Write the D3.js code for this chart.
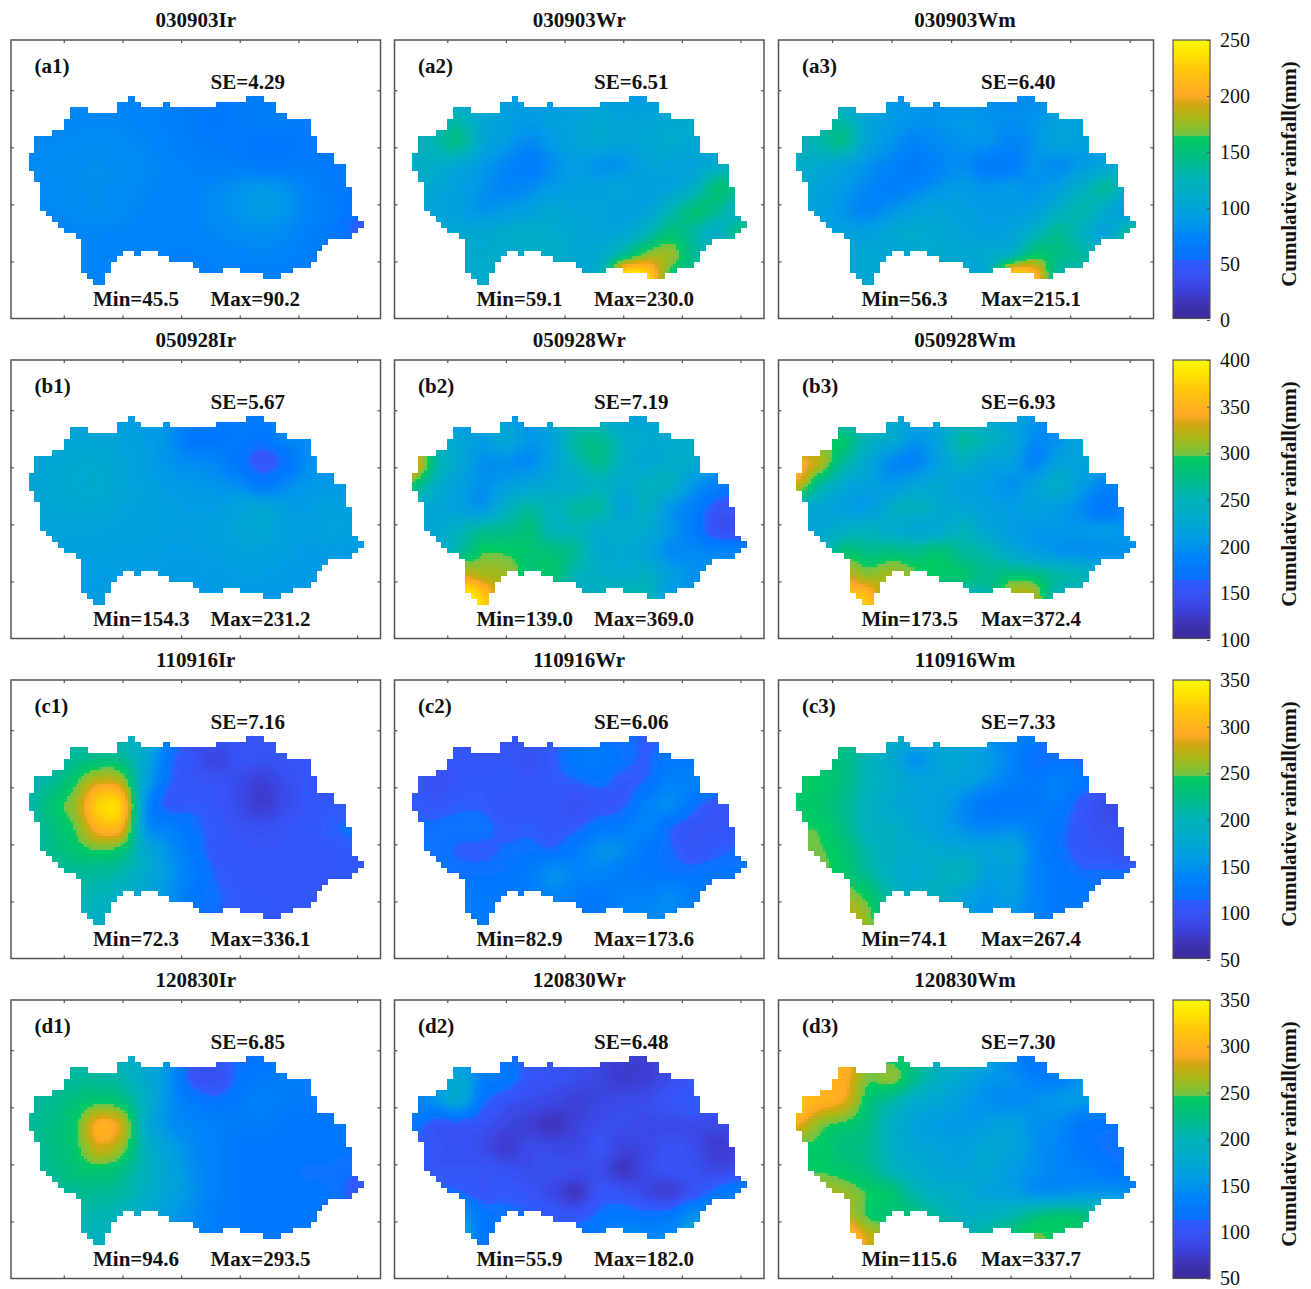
<!DOCTYPE html>
<html><head><meta charset="utf-8">
<script src="https://cdn.jsdelivr.net/npm/d3@7"></script>
<style>
html,body{margin:0;padding:0;background:#fff}
svg{display:block}
text{font-family:"Liberation Serif","Times New Roman",serif;fill:#111}
</style></head><body>
<svg id="chart" width="1311" height="1289"></svg>
<script>
const panelIds = ["a1","a2","a3","b1","b2","b3","c1","c2","c3","d1","d2","d3"];
const panelTitles = ["030903Ir","030903Wr","030903Wm","050928Ir","050928Wr","050928Wm","110916Ir","110916Wr","110916Wm","120830Ir","120830Wr","120830Wm"];
const seValues = ["4.29","6.51","6.40","5.67","7.19","6.93","7.16","6.06","7.33","6.85","6.48","7.30"];
const minValues = ["45.5","59.1","56.3","154.3","139.0","173.5","72.3","82.9","74.1","94.6","55.9","115.6"];
const maxValues = ["90.2","230.0","215.1","231.2","369.0","372.4","336.1","173.6","267.4","293.5","182.0","337.7"];
const rowDomains = [[0,250],[100,400],[50,350],[50,350]];
const colorbarTicks = [[0,50,100,150,200,250],[100,150,200,250,300,350,400],[50,100,150,200,250,300,350],[50,100,150,200,250,300,350]];
const colorbarLabel = "Cumulative rainfall(mm)";
const gridTicksX = [6,16,26,36,46,56];
const gridTicksY = [-1,9,19,29];

// Catchment mask: [row, first column, last column] in grid cells
const maskRuns = [[0,17,17],[0,37,39],[1,15,18],[1,23,23],[1,32,41],[2,7,9],[2,15,41],[3,7,43],[4,6,47],[5,6,47],[6,4,47],
[7,1,48],[8,1,48],[9,1,48],[10,0,51],[11,0,51],[12,0,53],[13,1,53],[14,1,53],[15,2,53],[16,2,54],[17,2,54],[18,2,54],[19,2,54],
[20,3,54],[21,4,55],[22,5,56],[23,6,55],[24,8,54],[25,9,50],[26,9,49],[27,9,15],[27,18,18],[27,22,48],[28,9,14],[28,24,48],
[29,9,13],[29,28,47],[30,9,13],[30,29,32],[30,36,44],[31,10,12],[31,40,42],[32,11,12]];

const a1Values = [
[74,74,74,74,74,72,70,66,64,66,68,68,68,68,68],
[76,76,76,77,76,74,71,66,62,66,68,68,66,66,66],
[78,78,79,80,79,76,72,68,65,64,61,62,64,64,64],
[78,80,81,82,80,78,74,71,69,68,65,66,66,64,64],
[78,79,81,82,80,77,74,74,78,84,87,82,72,66,62],
[76,78,80,81,79,75,74,75,80,86,90,85,74,67,55],
[74,74,76,76,75,74,73,74,77,80,82,78,70,64,50],
[72,72,74,74,74,73,72,72,73,74,75,73,68,64,58],
[72,72,73,73,73,72,71,70,70,70,70,69,66,64,60]];
const a2Values = [
[110,110,100,95,90,88,88,88,90,90,90,90,95,100,100],
[115,120,128,105,95,90,95,100,105,100,100,105,105,105,105],
[118,130,142,105,90,80,90,100,105,100,105,110,105,100,100],
[115,115,105,90,78,68,82,92,85,85,100,100,100,110,125],
[110,105,95,85,75,80,90,95,95,100,95,100,115,150,140],
[105,100,95,85,90,95,105,100,100,95,100,125,150,140,115],
[105,105,105,105,110,115,110,105,100,105,125,150,135,115,150],
[105,110,110,110,110,110,115,105,110,145,175,175,140,130,140],
[110,115,110,110,110,110,110,105,120,255,240,155,140,130,130]];
const a3Values = [
[110,110,100,90,85,82,80,78,80,80,80,80,85,90,90],
[115,125,128,100,90,85,85,88,85,82,85,95,95,95,95],
[118,130,142,100,85,75,80,85,85,75,85,100,95,95,95],
[115,110,100,85,75,66,75,80,68,68,85,80,90,100,110],
[110,100,90,78,70,75,85,90,85,88,85,95,115,135,110],
[105,95,85,75,85,95,100,95,90,90,95,115,130,110,90],
[105,100,95,95,105,110,105,100,95,100,120,140,120,100,140],
[105,105,105,105,100,105,110,105,110,125,160,145,135,125,130],
[110,110,105,105,105,105,105,100,110,245,220,130,125,125,125]];
const b1Values = [
[215,215,213,212,210,205,200,190,180,178,180,190,195,195,195],
[220,222,222,222,218,210,200,172,172,178,172,190,195,195,195],
[222,224,228,228,222,212,202,195,190,172,155,170,198,198,198],
[222,226,230,231,224,215,208,205,202,195,178,195,205,205,205],
[220,224,226,226,220,216,212,210,210,218,222,210,210,215,212],
[216,218,218,218,216,214,212,212,215,222,226,215,212,218,212],
[214,214,214,214,212,212,210,210,212,216,216,212,208,208,205],
[212,212,212,210,210,208,208,208,208,210,210,208,205,205,200],
[210,210,208,208,208,206,205,205,205,205,205,205,205,200,200]];
const b2Values = [
[215,215,190,205,210,195,235,230,230,220,220,225,225,225,225],
[280,235,225,210,225,205,220,262,268,240,230,230,230,220,210],
[350,265,225,200,200,195,220,250,270,240,225,235,230,200,190],
[290,240,215,200,210,220,230,235,245,230,245,240,205,185,170],
[225,225,215,205,240,260,245,260,260,220,240,205,185,155,150],
[215,225,245,265,270,280,250,250,235,235,230,205,180,150,145],
[220,235,265,295,295,285,280,265,230,230,220,195,195,190,190],
[225,260,330,320,310,285,285,250,240,235,240,215,200,200,200],
[230,300,400,375,300,280,250,240,240,260,250,205,200,200,200]];
const b3Values = [
[235,235,225,235,225,220,225,225,225,215,205,190,200,200,200],
[270,280,285,245,230,205,220,260,245,225,195,200,220,220,215],
[345,320,265,225,195,190,215,240,220,215,190,215,220,210,200],
[330,265,230,215,205,220,225,215,210,200,215,235,210,190,185],
[240,225,215,210,235,245,230,225,215,210,215,210,195,175,195],
[220,225,240,245,235,225,230,245,225,210,205,205,205,205,205],
[225,245,285,275,280,275,285,265,255,230,215,205,200,200,200],
[230,310,330,310,315,300,290,285,270,285,280,260,250,220,215],
[240,355,370,360,290,280,260,240,255,320,320,240,240,230,220]];
const c1Values = [
[190,195,205,200,195,180,130,106,102,102,102,102,102,102,102],
[195,205,218,225,220,175,120,100,84,100,98,102,102,102,102],
[200,215,243,278,265,170,115,104,100,90,80,94,104,104,104],
[205,235,262,325,315,150,108,110,104,90,76,92,104,106,106],
[205,228,250,300,292,155,135,118,106,100,96,102,106,112,116],
[200,222,236,248,235,180,150,125,106,104,103,103,104,106,110],
[200,210,215,215,205,180,155,130,112,106,104,103,104,106,106],
[200,205,205,200,190,170,150,125,115,108,106,105,105,105,105],
[200,195,195,190,180,160,140,120,114,108,106,105,105,105,105]];
const c2Values = [
[110,110,108,102,98,104,110,115,115,115,112,112,115,115,115],
[108,104,104,102,104,98,110,125,128,118,112,125,125,125,125],
[104,96,104,108,108,104,108,112,118,108,115,135,135,130,125],
[110,106,110,110,104,104,104,98,104,110,135,145,120,104,104],
[115,116,118,118,108,110,106,110,125,130,140,115,102,102,104],
[120,118,112,110,115,118,115,130,150,145,125,115,104,110,115],
[120,120,118,118,120,130,150,140,140,130,125,120,118,120,120],
[125,125,128,125,125,130,140,130,125,135,135,145,130,125,125],
[130,135,130,128,125,125,128,125,128,140,145,140,130,125,125]];
const c3Values = [
[215,220,225,205,190,180,175,160,150,135,130,110,110,110,110],
[235,235,225,200,180,150,170,175,160,140,115,118,112,110,110],
[242,242,225,200,185,170,170,165,150,135,125,135,125,104,104],
[240,238,220,195,180,170,165,145,125,122,125,130,104,90,90],
[245,245,225,195,190,175,165,150,140,145,135,120,104,96,94],
[248,248,235,205,190,185,180,175,170,170,140,120,106,102,94],
[255,252,240,215,190,180,190,195,165,165,140,125,115,115,115],
[255,255,260,240,205,190,190,170,155,160,140,125,125,120,120],
[255,290,285,255,210,195,170,160,150,150,140,125,125,120,120]];
const d1Values = [
[200,205,205,200,195,175,150,110,108,115,120,125,125,125,125],
[205,210,215,215,205,180,150,105,97,120,128,130,130,130,130],
[210,218,230,240,230,190,150,130,120,128,135,130,128,128,128],
[215,225,242,295,275,185,150,140,135,130,130,125,120,120,120],
[215,225,240,280,258,195,165,145,135,125,122,122,122,120,120],
[205,220,232,238,225,195,170,148,135,125,120,120,118,118,114],
[200,210,218,218,210,190,170,150,135,125,122,120,120,118,108],
[200,205,205,205,195,180,160,145,130,125,122,120,120,120,116],
[200,200,200,195,185,170,150,140,130,125,125,120,120,118,116]];
const d2Values = [
[130,140,145,125,115,110,104,98,84,78,78,92,98,98,98],
[130,150,175,135,125,104,98,92,84,76,80,92,102,102,102],
[135,150,170,120,98,92,86,80,86,90,92,102,108,104,102],
[125,104,104,98,86,78,70,82,92,92,90,90,90,88,92],
[110,102,98,92,76,90,88,88,98,84,88,98,92,76,84],
[108,102,102,102,98,92,96,92,92,72,90,98,96,88,92],
[110,120,115,104,108,102,88,72,102,100,88,80,102,120,135],
[130,135,155,125,118,115,108,104,118,125,120,125,150,135,130],
[145,165,175,125,125,120,118,125,130,150,145,145,165,140,130]];
const d3Values = [
[245,270,300,250,240,225,195,190,175,140,120,125,130,130,130],
[265,290,295,250,255,220,190,175,155,150,135,135,150,150,150],
[315,300,285,235,210,185,175,160,150,145,150,155,155,150,150],
[290,255,242,225,190,170,160,155,160,165,150,145,125,122,122],
[240,242,228,220,190,175,170,165,175,170,150,140,125,118,120],
[240,245,238,225,200,185,175,170,175,160,150,140,135,125,120],
[255,265,260,245,235,205,190,185,170,165,150,150,155,155,150],
[270,275,275,245,235,230,210,190,195,205,225,235,230,200,190],
[300,320,330,280,260,250,230,205,215,235,250,240,225,200,190]];
const panelValues = [a1Values,a2Values,a3Values,b1Values,b2Values,b3Values,c1Values,c2Values,c3Values,d1Values,d2Values,d3Values];

// Colormap
const colorStops = [0,.05,.1,.15,.208,.213,.3,.36,.4,.5,.6,.655,.657,.72,.77,.8,.87,.95,1];
const colorValues = ["#3a2a98","#3c30b0","#3c40d8","#3850f0","#2e5cff","#0870ff","#0084f8","#009ce4","#00a4d8","#00b2b8","#00c07a","#00cc60","#70c448","#a8b818","#d0a810","#ffa828","#ffbe10","#ffe000","#f8f800"];

const svg = d3.select("#chart");
const defs = svg.append("defs");
defs.append("filter").attr("id","soft").attr("x","-5%").attr("y","-5%").attr("width","110%").attr("height","110%")
  .append("feGaussianBlur").attr("stdDeviation",0.7);

const colLeft = [11,394.5,778.5], colWidth = [369.5,369.5,375];
const rowTop = [40,360,680,1000], panelH = 278.5;
const frameColor = "#555";
const ramp = d3.scaleLinear().domain(colorStops).range(colorValues).interpolate(d3.interpolateRgb).clamp(true);

function cr(p0,p1,p2,p3,t){return .5*((2*p1)+(-p0+p2)*t+(2*p0-5*p1+4*p2-p3)*t*t+(-p0+3*p1-3*p2+p3)*t*t*t);}
function sample(g,u,v){
  const ny=g.length,nx=g[0].length;
  const i=Math.min(nx-2,Math.max(0,Math.floor(u))),j=Math.min(ny-2,Math.max(0,Math.floor(v)));
  const tx=u-i,ty=v-j,col=[];
  for(let b=-1;b<=2;b++){
    const r=g[Math.min(ny-1,Math.max(0,j+b))];
    col.push(cr(r[Math.max(0,i-1)],r[i],r[i+1],r[Math.min(nx-1,i+2)],tx));
  }
  return cr(col[0],col[1],col[2],col[3],ty);
}

const subCells = [];
maskRuns.forEach(([r,c0,c1])=>{
  for(let c=c0;c<=c1;c++) for(let a=0;a<2;a++) for(let b=0;b<2;b++) subCells.push({r:r+b/2,c:c+a/2});
});

panelIds.forEach((id,n)=>{
  const ci=n%3, ri=Math.floor(n/3);
  const x=d3.scaleLinear([-3,60],[0,colWidth[ci]]);
  const y=d3.scaleLinear([-9.8,39],[0,panelH]);
  const t=d3.scaleLinear(rowDomains[ri],[0,1]);
  const g=svg.append("g").attr("transform",`translate(${colLeft[ci]},${rowTop[ri]})`);
  const w=x(0.5)-x(0), h=y(0.5)-y(0), grid=panelValues[n];
  g.append("g").attr("filter","url(#soft)").attr("shape-rendering","crispEdges")
    .selectAll("rect").data(subCells).join("rect")
    .attr("x",d=>x(d.c)).attr("y",d=>y(d.r)).attr("width",w+.6).attr("height",h+.6)
    .attr("fill",d=>ramp(t(sample(grid,(d.c+.25)/4,(d.r+.25)/4))));
  g.append("rect").attr("width",colWidth[ci]).attr("height",panelH).attr("fill","none").attr("stroke",frameColor).attr("stroke-width",1.5);
  [[d3.axisBottom(x).tickValues(gridTicksX).tickSize(-3),0,panelH],[d3.axisTop(x).tickValues(gridTicksX).tickSize(-3),0,0],
   [d3.axisLeft(y).tickValues(gridTicksY).tickSize(-3),0,0],[d3.axisRight(y).tickValues(gridTicksY).tickSize(-3),colWidth[ci],0]]
  .forEach(([ax,tx,ty])=>{
    const a=g.append("g").attr("transform",`translate(${tx},${ty})`).call(ax.tickFormat(""));
    a.select(".domain").remove();
    a.selectAll("line").attr("stroke",frameColor).attr("stroke-width",1.2);
  });
  const lab=(s,px,py,anchor)=>g.append("text").attr("x",px).attr("y",py).attr("font-size",21).attr("font-weight","bold").attr("text-anchor",anchor||"start").text(s);
  const dx=ci===2?3:0;
  lab(panelTitles[n],colWidth[ci]/2-(ci===2?1:0),-13,"middle");
  lab(`(${id})`,23.5,32.5);
  lab(`SE=${seValues[n]}`,199.5+dx,49);
  lab(`Min=${minValues[n]}`,82+(ci===2?1:0),266);
  lab(`Max=${maxValues[n]}`,199.5+dx,266);
});

// Colorbars
rowDomains.forEach((dom,ri)=>{
  const bx=1173,bw=37;
  const s=d3.scaleLinear(dom,[panelH,0]);
  const t=d3.scaleLinear(dom,[0,1]);
  const g=svg.append("g").attr("transform",`translate(${bx},${rowTop[ri]})`);
  const vals=d3.range(0,280).map(i=>dom[0]+(dom[1]-dom[0])*i/280);
  const step=(dom[1]-dom[0])/280;
  g.selectAll("rect").data(vals).join("rect").attr("shape-rendering","crispEdges")
    .attr("x",0).attr("width",bw).attr("y",d=>s(d+step)).attr("height",s(dom[0])-s(dom[0]+step)+.6)
    .attr("fill",d=>ramp(t(d+step/2)));
  g.append("rect").attr("width",bw).attr("height",panelH).attr("fill","none").attr("stroke",frameColor).attr("stroke-width",1.2);
  const labelBottom = ri===3 ? panelH : panelH+1.5;
  const a=g.append("g").attr("transform",`translate(${bw},0)`).call(d3.axisRight(s.copy().range([labelBottom,0])).tickValues(colorbarTicks[ri]).tickSize(-3).tickPadding(10));
  a.select(".domain").remove();
  a.selectAll("line").attr("stroke",frameColor);
  a.selectAll("text").attr("font-size",20).attr("font-family",'"Liberation Serif",serif').attr("fill","#333");
  svg.append("text").attr("transform",`translate(1296,${rowTop[ri]+134}) rotate(-90)`).attr("text-anchor","middle")
    .attr("font-size",21).attr("font-weight","bold").text(colorbarLabel);
});
</script>
</body></html>
